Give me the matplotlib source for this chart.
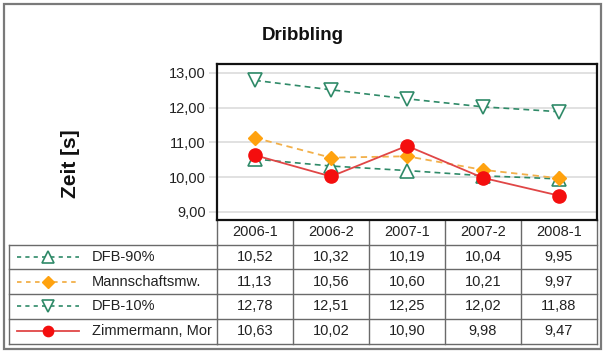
import matplotlib
matplotlib.use("Agg")
import matplotlib.pyplot as plt
from matplotlib.transforms import blended_transform_factory
from matplotlib.lines import Line2D
from matplotlib.patches import Rectangle

plt.rcParams['font.family'] = ['Liberation Sans', 'DejaVu Sans']

title = "Dribbling"
ylabel = "Zeit [s]"
categories = ["2006-1", "2006-2", "2007-1", "2007-2", "2008-1"]
series_names = ["DFB-90%", "Mannschaftsmw.", "DFB-10%", "Zimmermann, Mor"]
dfb90 = [10.52, 10.32, 10.19, 10.04, 9.95]
team_mean = [11.13, 10.56, 10.60, 10.21, 9.97]
dfb10 = [12.78, 12.51, 12.25, 12.02, 11.88]
zimmermann = [10.63, 10.02, 10.90, 9.98, 9.47]
yticks = [9, 10, 11, 12, 13]

W, H = 605, 354
fig = plt.figure(figsize=(W / 100, H / 100), dpi=100)

def fx(px):
    return px / W

def fy(py):
    return 1 - py / H

# overlay in pixel coordinates (origin top-left)
ov = fig.add_axes([0, 0, 1, 1], zorder=0)
ov.set_xlim(0, W)
ov.set_ylim(H, 0)
ov.axis('off')

# main plot
L, R, T, B = 217, 597, 64, 220
ax = fig.add_axes([fx(L), fy(B), fx(R - L), (B - T) / H], zorder=2)
ax.set_facecolor('white')
x = list(range(len(categories)))

green = '#2f8a68'
orange_line = '#f2b04a'
orange_mk = '#ffa20f'
red_line = '#e04646'
red_mk = '#f40e0e'

styles = [
    dict(color=green, ls=(0, (3.5, 2.5)), lw=1.2, marker='^', ms=10.5,
         mfc='white', mec=green, mew=1.2),
    dict(color=orange_line, ls=(0, (3.5, 2.5)), lw=1.3, marker='D', ms=7.5,
         mfc=orange_mk, mec=orange_mk, mew=1),
    dict(color=green, ls=(0, (3.5, 2.5)), lw=1.2, marker='v', ms=10.5,
         mfc='white', mec=green, mew=1.2),
    dict(color=red_line, ls='-', lw=1.3, marker='o', ms=9.5,
         mfc=red_mk, mec=red_mk, mew=1),
]
data = [dfb90, team_mean, dfb10, zimmermann]

for vals, st in zip(data, styles):
    ax.plot(x, vals, zorder=3, clip_on=False, **st)

ax.set_xlim(-0.5, len(categories) - 0.5)
ax.set_ylim(8.77, 13.25)
ax.set_yticks(yticks)
ax.set_yticklabels([f"{v:.2f}".replace('.', ',') for v in yticks], fontsize=10.5, color='#222222')
ax.set_xticks([])
ax.yaxis.grid(True, color='#dcdcdc', lw=1.2)
ax.set_axisbelow(True)
ax.tick_params(axis='y', length=6, width=1.2, color='#dcdcdc', pad=2)
for s in ax.spines.values():
    s.set_color('#111111')
    s.set_linewidth(1.6)

# title and y label
fig.text(fx(303), fy(40), title, ha='center', va='baseline', fontsize=13.5,
         fontweight='bold', color='#111111')
fig.text(fx(71), fy(164), ylabel, ha='center', va='center', rotation=90,
         fontsize=15, fontweight='bold', color='#111111')

# table
tr = blended_transform_factory(ax.transData, ov.transData)
row_edges = [220, 244.5, 269.25, 294, 318.75, 343.5]
tcol = '#6a6a6a'
tlw = 1.0
ncat = len(categories)
for i in range(ncat + 1):
    ov.add_line(Line2D([i - 0.5, i - 0.5], [row_edges[0], row_edges[-1]],
                       transform=tr, color=tcol, lw=tlw))
for yy in row_edges[1:]:
    ov.add_line(Line2D([-0.5, ncat - 0.5], [yy, yy], transform=tr, color=tcol, lw=tlw))
TL = 9
for yy in row_edges[1:]:
    ov.add_line(Line2D([TL, L], [yy, yy], color=tcol, lw=tlw))
ov.add_line(Line2D([TL, TL], [row_edges[1], row_edges[-1]], color=tcol, lw=tlw))

hy = (row_edges[0] + row_edges[1]) / 2
for i, c in enumerate(categories):
    ov.text(i, hy, c, transform=tr, ha='center', va='center', fontsize=10.5, color='#222222')

for r, (name, vals, st) in enumerate(zip(series_names, data, styles)):
    cy = (row_edges[r + 1] + row_edges[r + 2]) / 2
    for i, v in enumerate(vals):
        ov.text(i, cy, f"{v:.2f}".replace('.', ','), transform=tr, ha='center',
                va='center', fontsize=10.5, color='#222222')
    leg_ls = (0, (2.5, 2.5)) if st['ls'] != '-' else '-'
    ov.add_line(Line2D([17, 79], [cy, cy], color=st['color'], ls=leg_ls, lw=st['lw']))
    ov.add_line(Line2D([48], [cy], marker=st['marker'], ms=st['ms'] * 0.78,
                       mfc=st['mfc'], mec=st['mec'], mew=st['mew'], ls='none'))
    ov.text(92, cy, name, ha='left', va='center', fontsize=10.5, color='#222222')

# outer frame
ov.add_patch(Rectangle((4, 4), 597, 345, fill=False, edgecolor='#7a7a7a', lw=1.6))

fig.savefig('out.png', dpi=100, facecolor='white')
